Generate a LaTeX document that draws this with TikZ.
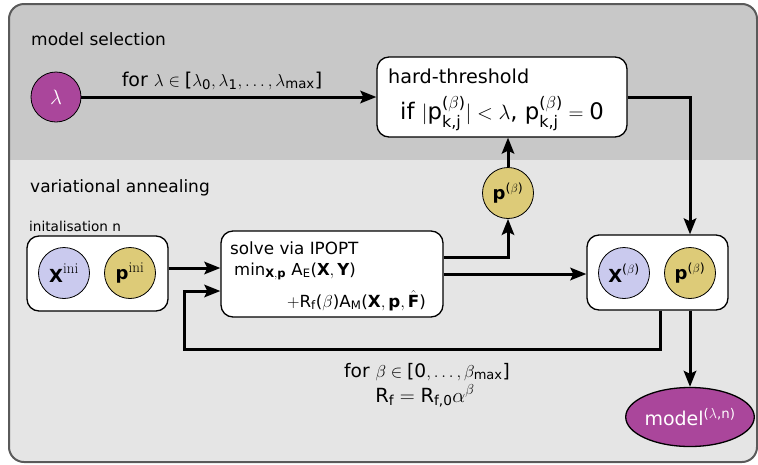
\documentclass[tikz,border=0pt]{standalone}
\usepackage{amsmath}
\usepackage{fontspec}
\setmainfont{DejaVu Sans}
\newfontfamily\lmr{Latin Modern Roman}
\usetikzlibrary{arrows.meta,shapes.geometric}
\definecolor{bandtop}{RGB}{200,200,200}
\definecolor{bandbot}{RGB}{229,229,229}
\definecolor{frame}{RGB}{90,90,90}
\definecolor{lampurple}{RGB}{170,70,155}
\definecolor{lav}{RGB}{202,202,238}
\definecolor{gold}{RGB}{221,203,120}
\newcommand\tx[1]{\text{#1}}
\tikzset{
  arr/.style={line width=3pt,-{Stealth[length=16pt,width=12.5pt,inset=3pt]}},
  wbox/.style={draw=black,line width=1.3pt,fill=white,rounded corners=12pt,inner sep=0pt},
  ball/.style={circle,draw=black,line width=0.8pt,minimum size=51pt,inner sep=0pt},
  title/.style={font=\fontsize{17}{20}\selectfont,anchor=base west,inner sep=0pt},
}
\begin{document}
\begin{tikzpicture}[x=1pt,y=-1pt]
\useasboundingbox (0,0) rectangle (758,464);
% background panels
\begin{scope}
\clip[rounded corners=15pt] (9,4) rectangle (757,462);
\fill[bandtop] (0,0) rectangle (758,160);
\fill[bandbot] (0,160) rectangle (758,464);
\end{scope}
\draw[frame,line width=2pt,rounded corners=15pt] (9,4) rectangle (757,462);

\node[title] (tms) at (31,45) {model selection};
\node[title] (tva) at (30,192) {variational annealing};
\node[font=\fontsize{13.6}{15}\selectfont,anchor=base west,inner sep=0pt] (tin) at (29,231) {initalisation n};

% model selection row
\node[ball,fill=lampurple,text=white,minimum size=50pt] (lam) at (56,97) {\fontsize{21}{21}\selectfont$\lambda$};
\node[wbox,minimum width=250pt,minimum height=80pt] (hard) at (502,97) {};
\node[font=\fontsize{19.2}{22}\selectfont,anchor=base west,inner sep=0pt] (ht1) at (388,83) {hard-threshold};
\node[font=\fontsize{22.8}{26}\selectfont,anchor=base west,inner sep=0pt] (ht2) at (400,119) {if $|\tx{p}^{\tx{(}\beta\tx{)}}_{\tx{k,j}}| < \lambda$, $\tx{p}^{\tx{(}\beta\tx{)}}_{\tx{k,j}} = \tx{0}$};
\draw[arr] (lam) -- (hard);
\node[font=\fontsize{19}{22}\selectfont,anchor=base,inner sep=0pt] (laml) at (222,86) {for $\lambda \in \tx{[}\lambda_{\tx{0}}, \lambda_{\tx{1}}, \ldots, \lambda_{\tx{max}}\tx{]}$};

% initialisation box
\node[wbox,minimum width=141pt,minimum height=75pt] (init) at (97.5,273.5) {};
\node[ball,fill=lav] (xini) at (64,273) {\fontsize{18}{18}\selectfont$\textbf{X}^{\text{\lmr\fontsize{15}{15}\selectfont ini}}$};
\node[ball,fill=gold] (pini) at (130,273) {\fontsize{18}{18}\selectfont$\textbf{p}^{\text{\lmr\fontsize{15}{15}\selectfont ini}}$};

% solve box
\node[wbox,minimum width=222pt,minimum height=86pt] (solve) at (332,274) {};
\node[font=\fontsize{16.8}{20}\selectfont,anchor=base west,inner sep=0pt] (s1) at (230,254) {solve via IPOPT};
\node[font=\fontsize{16.5}{18}\selectfont,anchor=base west,inner sep=0pt] (s2) at (234,275) {$\tx{min}_{\textbf{X},\textbf{p}}\ \tx{A}_{\tx{E}}\tx{(}\textbf{X}, \textbf{Y}\tx{)}$};
\node[font=\fontsize{16.7}{18}\selectfont,anchor=base east,inner sep=0pt] (s3) at (426,307) {$+\tx{R}_{\tx{f}}\tx{(}\beta\tx{)}\tx{A}_{\tx{M}}\tx{(}\textbf{X}, \textbf{p}, \hat{\textbf{F}}\tx{)}$};

% p(beta) circle
\node[ball,fill=gold] (pb1) at (508,193) {\fontsize{18}{18}\selectfont$\textbf{p}^{\tx{(}\beta\tx{)}}$};

% result box
\node[wbox,minimum width=141pt,minimum height=75pt] (xp) at (657.5,272.5) {};
\node[ball,fill=lav] (xb) at (624,273) {\fontsize{18}{18}\selectfont$\textbf{X}^{\tx{(}\beta\tx{)}}$};
\node[ball,fill=gold] (pb2) at (690,273) {\fontsize{18}{18}\selectfont$\textbf{p}^{\tx{(}\beta\tx{)}}$};

% model ellipse
\node[ellipse,draw=black,line width=1.3pt,fill=lampurple,text=white,minimum width=118pt,minimum height=59pt,inner sep=0pt] (model) at (690,417) {\fontsize{19}{20}\selectfont model$^{\tx{(}\lambda\tx{,n)}}$};

% connectors
\draw[arr] ([yshift=5.5pt]init.east) -- ([yshift=5.5pt]init.east -| solve.west);
\draw[arr] (solve.east) -- (solve.east -| xp.west);
\draw[arr] ([yshift=17pt]solve.east) -| (pb1.south);
\draw[arr] (pb1.north) -- (pb1.north |- hard.south);
\draw[arr] (hard.east) -| (pb2.center |- xp.north);
\draw[arr] (pb2.center |- xp.south) -- (model);
\coordinate (fb1) at (660,349);
\coordinate (fb2) at (184,349);
\draw[arr] (xp.south -| fb1) -- (fb1) -- (fb2) |- ([yshift=-17pt]solve.west);

\node[font=\fontsize{18.6}{22}\selectfont,anchor=base,inner sep=0pt] (bl1) at (427,377) {for $\beta \in \tx{[0}, \ldots, \beta_{\tx{max}}\tx{]}$};
\node[font=\fontsize{19.5}{22}\selectfont,anchor=base,inner sep=0pt] (bl2) at (425,402) {$\tx{R}_{\tx{f}} = \tx{R}_{\tx{f,0}}\alpha^{\beta}$};
\end{tikzpicture}
\end{document}
